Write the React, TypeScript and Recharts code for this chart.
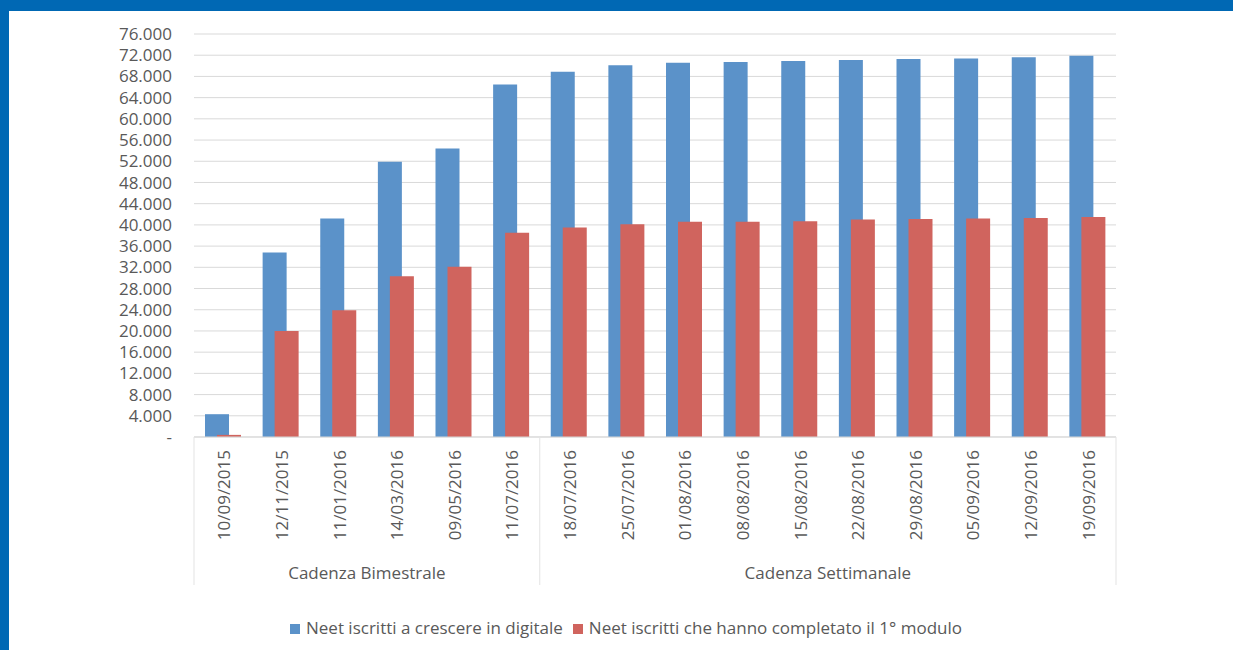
import React from 'react';
import { BarChart, Bar, XAxis, YAxis, CartesianGrid, Legend } from 'recharts';

const dates = [
  '10/09/2015', '12/11/2015', '11/01/2016', '14/03/2016', '09/05/2016', '11/07/2016',
  '18/07/2016', '25/07/2016', '01/08/2016', '08/08/2016', '15/08/2016', '22/08/2016',
  '29/08/2016', '05/09/2016', '12/09/2016', '19/09/2016',
];

const iscritti = [
  4300, 34800, 41200, 51900, 54400, 66500, 68900, 70100, 70600, 70700, 70900, 71100,
  71300, 71400, 71600, 71900,
];

const completato = [
  400, 20000, 23900, 30300, 32100, 38500, 39500, 40100, 40600, 40600, 40700, 41000,
  41100, 41200, 41300, 41500,
];

const groups = ['Cadenza Bimestrale', 'Cadenza Settimanale'];
const groupSizes = [6, 10];

const yTicks = [
  0, 4000, 8000, 12000, 16000, 20000, 24000, 28000, 32000, 36000, 40000, 44000, 48000,
  52000, 56000, 60000, 64000, 68000, 72000, 76000,
];

const seriesNames = ['Neet iscritti a crescere in digitale', 'Neet iscritti che hanno completato il 1° modulo'];

const data = dates.map((date, i) => ({
  date,
  iscritti: iscritti[i],
  completato: completato[i],
}));

const FONT = '"Open Sans", sans-serif';
const TEXT = '#595959';
const BLUE = '#5b92c9';
const RED = '#d0645e';

// start index of each group on the category axis
const groupStarts = groupSizes.map((_, g) => groupSizes.slice(0, g).reduce((a, b) => a + b, 0));

function DateTick(props: any) {
  const { x, y, payload } = props;
  const idx = payload.index;
  const half = payload.offset || 28.8;
  const g = groupStarts.indexOf(idx);
  const ty = y + 13;

  return (
    <g>
      <text
        x={x + 1}
        y={ty}
        transform={`rotate(-90, ${x + 1}, ${ty})`}
        textAnchor="end"
        dominantBaseline="central"
        fill={TEXT}
        fontSize={17}
        fontFamily={FONT}
      >
        {payload.value}
      </text>
      {g >= 0 && (
        <g>
          <line x1={x - half} x2={x - half} y1={y} y2={y + 148} stroke="#e3e3e3" />
          <text
            x={x - half + groupSizes[g] * half}
            y={y + 135.5}
            textAnchor="middle"
            dominantBaseline="central"
            fill={TEXT}
            fontSize={17}
            fontFamily={FONT}
          >
            {groups[g]}
          </text>
          {g === groups.length - 1 && (
            <line
              x1={x - half + groupSizes[g] * 2 * half}
              x2={x - half + groupSizes[g] * 2 * half}
              y1={y}
              y2={y + 148}
              stroke="#e3e3e3"
            />
          )}
        </g>
      )}
    </g>
  );
}

export default function App() {
  return (
    <div
      style={{
        position: 'absolute',
        top: 0,
        left: 0,
        width: 1233,
        height: 650,
        overflow: 'hidden',
        boxSizing: 'border-box',
        background: '#ffffff',
        borderTop: '11px solid #0068b4',
        borderLeft: '9px solid #0068b4',
      }}
    >
      <BarChart
        width={1224}
        height={639}
        data={data}
        margin={{ top: 23, right: 117, left: 0, bottom: 11 }}
        barSize={24}
        barGap={-12}
      >
        <CartesianGrid vertical={false} stroke="#d9d9d9" />
        <XAxis
          dataKey="date"
          interval={0}
          height={148}
          tickSize={0}
          tickMargin={0}
          tickLine={false}
          axisLine={{ stroke: '#d9d9d9' }}
          tick={<DateTick />}
        />
        <YAxis
          width={185}
          domain={[0, 76000]}
          ticks={yTicks}
          interval={0}
          axisLine={false}
          tickLine={false}
          tickSize={0}
          tickMargin={22}
          tick={{ fill: TEXT, fontSize: 17, fontFamily: FONT }}
          tickFormatter={(v: number) => (v === 0 ? '-' : `${v / 1000}.000`)}
        />
        <Legend
          verticalAlign="bottom"
          iconType="square"
          iconSize={10}
          width={1204}
          wrapperStyle={{ left: 20, paddingTop: 32, lineHeight: '22px', fontSize: 17, fontFamily: FONT }}
          formatter={(value: string) => <span style={{ color: TEXT, marginLeft: 2 }}>{value}</span>}
        />
        <Bar dataKey="iscritti" name={seriesNames[0]} fill={BLUE} isAnimationActive={false} />
        <Bar dataKey="completato" name={seriesNames[1]} fill={RED} isAnimationActive={false} />
      </BarChart>
    </div>
  );
}
